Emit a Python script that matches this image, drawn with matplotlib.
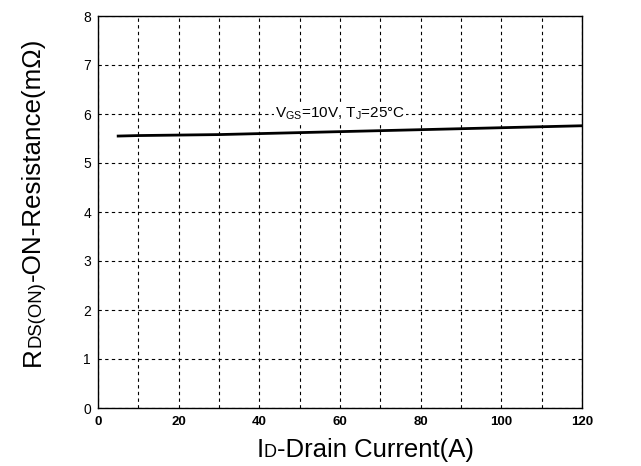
import matplotlib
matplotlib.use("Agg")
import matplotlib.pyplot as plt
from matplotlib.ticker import MultipleLocator

plt.rcParams['font.family'] = ['Liberation Sans', 'DejaVu Sans']
plt.rcParams['mathtext.fontset'] = 'custom'
plt.rcParams['mathtext.rm'] = 'Liberation Sans'

# data
drain_current = [5, 10, 20, 30, 40, 50, 60, 70, 80, 90, 100, 110, 120]
rds_on = [5.55, 5.56, 5.57, 5.58, 5.60, 5.62, 5.64, 5.66, 5.68, 5.70, 5.72, 5.74, 5.76]
x_ticks = [0, 20, 40, 60, 80, 100, 120]
y_ticks = [0, 1, 2, 3, 4, 5, 6, 7, 8]
note = r"V$\mathregular{_{GS}}$=10V, T$\mathregular{_{J}}$=25°C"

W, H = 641, 466
fig = plt.figure(figsize=(W / 100, H / 100), dpi=100)
ax = fig.add_axes([98 / W, 1 - 408 / H, (582 - 98) / W, (408 - 16) / H])

ax.plot(drain_current, rds_on, color='black', lw=2)
ax.set_xlim(0, 120)
ax.set_ylim(0, 8)
ax.set_xticks(x_ticks)
ax.set_yticks(y_ticks)
ax.xaxis.set_minor_locator(MultipleLocator(10))
ax.grid(True, which='both', color='black', ls=(0, (3, 3)), lw=0.8)
ax.tick_params(which='both', length=0)
ax.tick_params(axis='x', labelsize=9.5, pad=6)
ax.tick_params(axis='y', labelsize=10, pad=5)
for lab in ax.get_xticklabels():
    lab.set_fontweight('bold')
for s in ax.spines.values():
    s.set_linewidth(1)
ax.text(60, 6.0, note, fontsize=11, ha='center', va='center',
        bbox=dict(facecolor='white', edgecolor='none', pad=1))

fig.canvas.draw()
renderer = fig.canvas.get_renderer()


def width_of(pieces):
    total = 0
    for txt, size in pieces:
        t = fig.text(0, 0, txt, fontsize=size)
        total += t.get_window_extent(renderer).width
        t.remove()
    return total


# x label: I + small D + rest
xpieces = [("I", 18.5), ("D", 13), ("-Drain Current(A)", 18.5)]
x = 365 - width_of(xpieces) / 2
for txt, size in xpieces:
    t = fig.text(x / W, 1 - 457 / H, txt, fontsize=size, ha='left', va='baseline')
    x += t.get_window_extent(renderer).width

# y label rotated
ypieces = [("R", 18.7), ("DS(ON)", 13.3), ("-ON-Resistance(mΩ)", 18.7)]
y = (H - 202) - width_of(ypieces) / 2  # pixels from bottom
for txt, size in ypieces:
    t = fig.text(40 / W, y / H, txt, fontsize=size, rotation=90,
                 rotation_mode='anchor', ha='left', va='baseline')
    y += t.get_window_extent(renderer).height

fig.savefig("out.png", dpi=100)
